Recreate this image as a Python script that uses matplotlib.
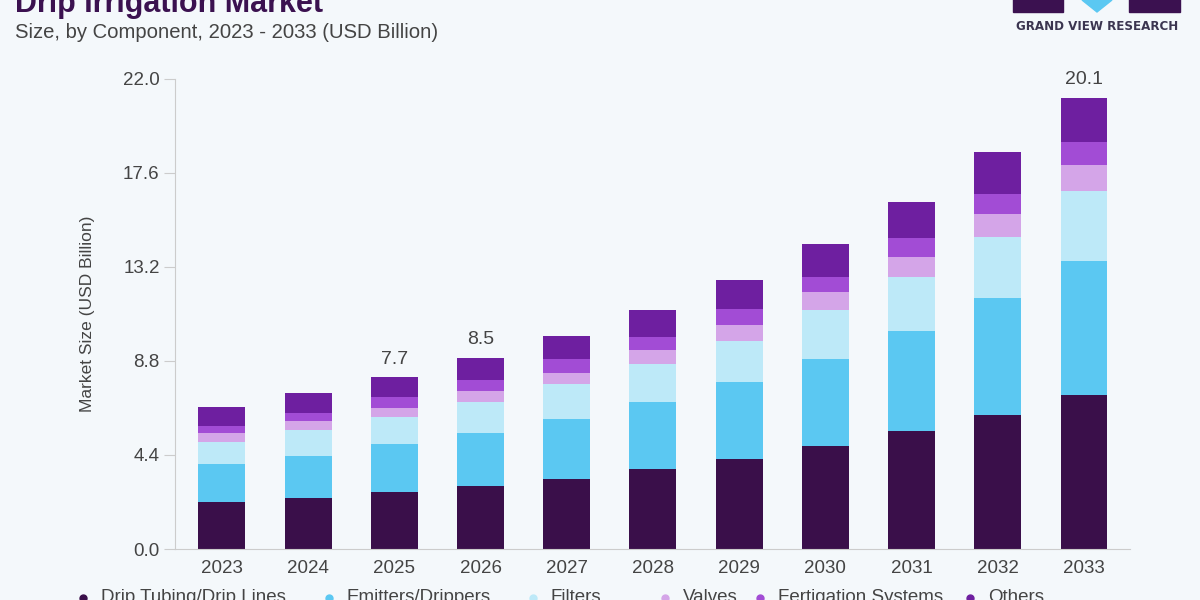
import matplotlib
matplotlib.use("Agg")
import matplotlib.pyplot as plt
import numpy as np
from matplotlib.lines import Line2D
from matplotlib.patches import Rectangle, Polygon

# ---------------------------------------------------------------
# data (USD Billion)
# ---------------------------------------------------------------
years = ["2023", "2024", "2025", "2026", "2027", "2028",
         "2029", "2030", "2031", "2032", "2033"]
drip_tubing = [2.19, 2.40, 2.65, 2.96, 3.28, 3.75, 4.21, 4.82, 5.52, 6.27, 7.22]
emitters = [1.79, 1.97, 2.25, 2.46, 2.81, 3.12, 3.62, 4.08, 4.69, 5.47, 6.28]
filters = [1.04, 1.20, 1.29, 1.48, 1.63, 1.79, 1.92, 2.29, 2.54, 2.88, 3.26]
valves = [0.40, 0.44, 0.43, 0.50, 0.53, 0.66, 0.75, 0.83, 0.93, 1.06, 1.22]
fertigation = [0.34, 0.37, 0.51, 0.51, 0.65, 0.62, 0.75, 0.73, 0.87, 0.94, 1.09]
others = [0.87, 0.94, 0.91, 1.05, 1.07, 1.25, 1.34, 1.53, 1.71, 1.95, 2.06]

series_names = ["Drip Tubing/Drip Lines", "Emitters/Drippers", "Filters",
                "Valves", "Fertigation Systems", "Others"]
colors = ["#3a0f4a", "#5bc8f2", "#bde9f8", "#d4a5e8", "#a24cd5", "#6e1fa0"]

# labelled totals shown above some bars
label_years = ["2025", "2026", "2033"]
label_texts = ["7.7", "8.5", "20.1"]

yticks = [0.0, 4.4, 8.8, 13.2, 17.6, 22.0]

BG = "#f4f8fb"

# ---------------------------------------------------------------
# figure
# ---------------------------------------------------------------
fig = plt.figure(figsize=(12, 6), dpi=100, facecolor=BG)
ax = fig.add_axes([0.1458, 0.085, 0.7959, 0.7834], facecolor=BG)

x = np.arange(len(years))
all_series = [drip_tubing, emitters, filters, valves, fertigation, others]
bottom = np.zeros(len(years))
for vals, col, name in zip(all_series, colors, series_names):
    ax.bar(x, vals, width=0.545, bottom=bottom, color=col, label=name)
    bottom += np.array(vals)

for yr, txt in zip(label_years, label_texts):
    i = years.index(yr)
    ax.text(i, bottom[i] + 0.45, txt, ha="center", va="bottom",
            fontsize=14, color="#444444", family="Liberation Sans")

ax.set_xlim(-0.545, 10.534)
ax.set_ylim(0, 22)
ax.set_yticks(yticks)
ax.set_yticklabels([f"{t:.1f}" for t in yticks])
ax.set_xticks(x)
ax.set_xticklabels(years)

for lab in ax.get_xticklabels() + ax.get_yticklabels():
    lab.set_family("Liberation Sans")
    lab.set_fontsize(13.5)
    lab.set_color("#444444")

ax.tick_params(axis="x", length=0, pad=8)
ax.tick_params(axis="y", length=8, width=0.8, color="#cccccc", pad=3)

for s in ["top", "right"]:
    ax.spines[s].set_visible(False)
ax.spines["left"].set_color("#cccccc")
ax.spines["bottom"].set_color("#cccccc")

ax.set_ylabel("Market Size (USD Billion)", fontsize=12.5, color="#444444",
              family="Liberation Sans", labelpad=20)

# ---------------------------------------------------------------
# titles
# ---------------------------------------------------------------
fig.text(0.0125, 1 - 12 / 600, "Drip Irrigation Market", fontsize=22,
         fontweight="bold", color="#3b1150", va="baseline", ha="left",
         family=["Liberation Sans Narrow", "Liberation Sans"])
fig.text(0.0125, 1 - 33 / 600, "Size, by Component, 2023 - 2033 (USD Billion)",
         fontsize=14.6, color="#444444", va="center", ha="left",
         family="Liberation Sans")

# logo (top right)
fig.patches.append(Rectangle((1013 / 1200, 1 - 12 / 600), 50 / 1200, 14 / 600,
                             transform=fig.transFigure, color="#3b1150"))
fig.patches.append(Rectangle((1129 / 1200, 1 - 12 / 600), 51 / 1200, 14 / 600,
                             transform=fig.transFigure, color="#3b1150"))
fig.patches.append(Polygon([(1082 / 1200, 1.0), (1112 / 1200, 1.0),
                            (1097 / 1200, 1 - 12 / 600)],
                           transform=fig.transFigure, color="#5bc8f2"))
fig.text(1097 / 1200, 1 - 27 / 600, "GRAND VIEW RESEARCH", fontsize=8.6,
         fontweight="bold", color="#3b3550", ha="center", va="center")

# ---------------------------------------------------------------
# legend (bottom, partly cut off like the reference)
# ---------------------------------------------------------------
marker_x = [83, 329, 533, 665, 760, 970]
leg_y = 1 - 598 / 600
for mx, col, name in zip(marker_x, colors, series_names):
    fig.lines.append(Line2D([mx / 1200], [leg_y], marker="o", markersize=5,
                            color=col, linestyle="none",
                            transform=fig.transFigure))
    fig.text((mx + 18) / 1200, leg_y, name, fontsize=13.5, color="#444444",
             ha="left", va="center", family="Liberation Sans")

fig.savefig("out.png", dpi=100, facecolor=BG)
